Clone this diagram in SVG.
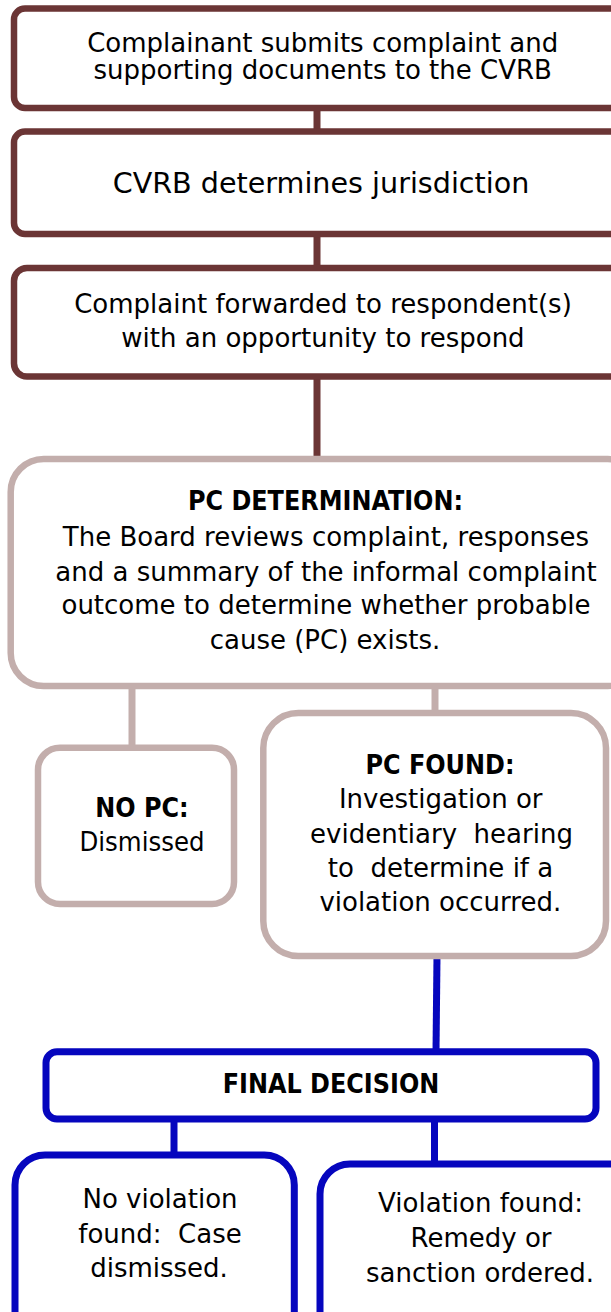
<svg xmlns="http://www.w3.org/2000/svg" width="611" height="1312" viewBox="0 0 611 1312">
<style>
.bx{fill:#fff;stroke-width:6.5}
.br{stroke:#6b3535}
.lt{stroke:#c3aeac}
.bl{stroke:#0606be;stroke-width:7}
.cn{fill:none;stroke-width:7;stroke-linecap:butt}
text{font-family:"DejaVu Sans","Noto Sans",sans-serif;font-size:26px;fill:#000;text-anchor:middle;white-space:pre}
.b{font-family:"DejaVu Sans Condensed","DejaVu Sans",sans-serif;font-weight:bold;font-stretch:condensed;font-size:26.6px}
.lg{font-size:28.6px}
</style>
<rect width="611" height="1312" fill="#fff"/>
<g id="connectors">
<line class="cn br" x1="317" y1="108" x2="317" y2="132"/>
<line class="cn br" x1="317" y1="234" x2="317" y2="268"/>
<line class="cn br" x1="317" y1="376" x2="317" y2="459"/>
<line class="cn lt" x1="132" y1="686" x2="132" y2="748"/>
<line class="cn lt" x1="435" y1="686" x2="435" y2="713"/>
<line class="cn bl" x1="437" y1="956" x2="436" y2="1052"/>
<line class="cn bl" x1="174" y1="1119" x2="174" y2="1155"/>
<line class="cn bl" x1="434.5" y1="1119" x2="434.5" y2="1164"/>
</g>
<g id="n1">
<rect class="bx br" x="14" y="8.5" width="620" height="99.5" rx="11"/>
<text x="322.7" y="52.3">Complainant submits complaint and</text>
<text x="322.7" y="79.3">supporting documents to the CVRB</text>
</g>
<g id="n2">
<rect class="bx br" x="14" y="131.5" width="620" height="102.5" rx="11"/>
<text class="lg" x="321" y="192.7">CVRB determines jurisdiction</text>
</g>
<g id="n3">
<rect class="bx br" x="14" y="268" width="620" height="108.5" rx="13"/>
<text x="323" y="312.7">Complaint forwarded to respondent(s)</text>
<text x="323" y="347.3">with an opportunity to respond</text>
</g>
<g id="n4">
<rect class="bx lt" x="10.7" y="459" width="630" height="227" rx="33"/>
<text class="b" x="325.5" y="510">PC DETERMINATION:</text>
<text x="326" y="546">The Board reviews complaint, responses</text>
<text x="326" y="580.7">and a summary of the informal complaint</text>
<text x="326" y="614">outcome to determine whether probable</text>
<text x="325" y="649">cause (PC) exists.</text>
</g>
<g id="n5">
<rect class="bx lt" x="38" y="747.7" width="196" height="156.3" rx="22"/>
<text class="b" x="142" y="816.7">NO PC:</text>
<text x="142" y="850.7" textLength="125" lengthAdjust="spacingAndGlyphs">Dismissed</text>
</g>
<g id="n6">
<rect class="bx lt" x="263.3" y="713" width="342.7" height="243" rx="35"/>
<text class="b" x="440" y="774">PC FOUND:</text>
<text x="440.7" y="808.3">Investigation or</text>
<text x="441.5" y="842.7">evidentiary  hearing</text>
<text x="440.5" y="876.7">to  determine if a</text>
<text x="440.3" y="910.7">violation occurred.</text>
</g>
<g id="n7">
<rect class="bx bl" x="46" y="1051.7" width="550" height="67.3" rx="11"/>
<text class="b" x="331" y="1093">FINAL DECISION</text>
</g>
<g id="n8">
<rect class="bx bl" x="15" y="1155" width="279.3" height="200" rx="30"/>
<text x="160" y="1208">No violation</text>
<text x="160" y="1242.7">found:  Case</text>
<text x="159" y="1277">dismissed.</text>
</g>
<g id="n9">
<rect class="bx bl" x="320" y="1164" width="330" height="200" rx="30"/>
<text x="480.5" y="1212">Violation found:</text>
<text x="481" y="1247">Remedy or</text>
<text x="480" y="1281.7">sanction ordered.</text>
</g>
</svg>
